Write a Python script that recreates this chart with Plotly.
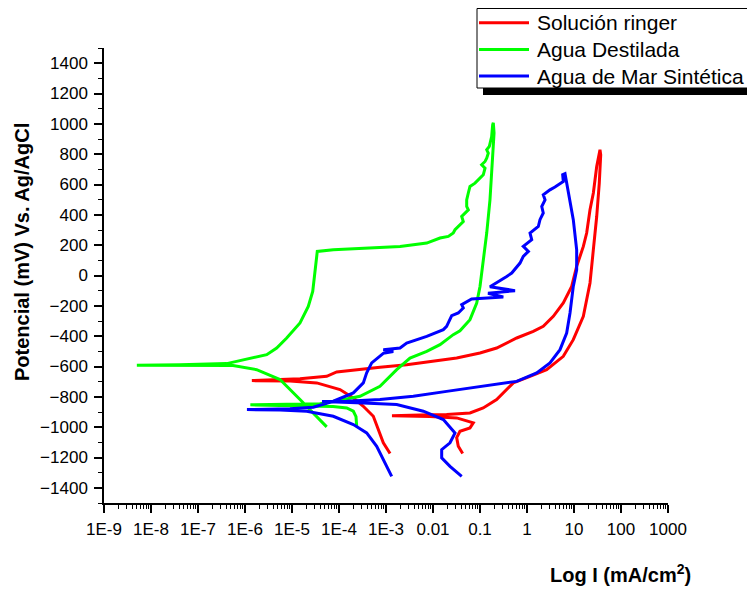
import plotly.graph_objects as go

# ---------------- data ----------------
series_names = ["Solución ringer", "Agua Destilada", "Agua de Mar Sintética"]
series_colors = ["#FF0000", "#00FF00", "#0000FF"]

# Solución ringer : current (mA/cm2), potential (mV)
ringer_i = [1.22e-3, 8.77e-4, 6.86e-4, 5.37e-4, 3.29e-4, 2.02e-4, 1.05e-4, 3.36e-5, 9.06e-6, 1.4e-6,
            1.48e-5, 5.47e-5, 8.93e-5, 2.80e-4, 7.45e-4, 2.75e-3, 0.0101, 0.0319, 0.1, 0.226,
            0.604, 1.36, 2.22, 3.63, 5.92, 8.93, 11.4, 15.8, 18.6, 21.9,
            25.8, 30.4, 35.7, 37.0, 34.5, 30.4, 25.8, 21.9, 15.8, 9.66,
            5.92, 2.62, 1.16, 0.512, 0.226, 0.117, 0.0612, 0.0195, 5.28e-3, 1.34e-3,
            8.63e-3, 0.0319, 0.0719, 0.0612, 0.0375, 0.0319, 0.0345, 0.0428]
ringer_e = [-1174, -1103, -1016, -928, -862, -807, -752, -708, -696, -693,
            -680, -665, -636, -617, -605, -588, -566, -544, -511, -478,
            -412, -368, -335, -269, -181, -72, 60, 192, 280, 433,
            544, 719, 829, 796, 609, 389, 170, -49, -269, -423,
            -533, -621, -665, -708, -818, -873, -906, -917, -920, -924,
            -929, -939, -972, -1005, -1027, -1069, -1126, -1174]

# Agua Destilada
dest_i = [5.47e-5, 2.80e-5, 1.48e-5, 5.56e-6, 1.77e-6, 5.56e-7, 4.1e-8, 5.0e-9, 4.1e-8, 4.08e-7,
          1.09e-6, 2.90e-6, 4.72e-6, 7.71e-6, 1.48e-5, 2.22e-5, 2.76e-5, 3.08e-5, 3.45e-5, 7.56e-5,
          3.88e-4, 1.99e-3, 7.35e-3, 0.0141, 0.0212, 0.0270, 0.0294, 0.0375, 0.0441, 0.0408,
          0.048, 0.0564, 0.0521, 0.0521, 0.0564, 0.0612, 0.0783, 0.1, 0.1175, 0.128,
          0.1085, 0.128, 0.139, 0.150, 0.139, 0.158, 0.177, 0.186, 0.192, 0.199,
          0.177, 0.163, 0.139, 0.1175, 0.1, 0.0851, 0.0612, 0.0375, 0.0270, 0.0141,
          7.35e-3, 3.24e-3, 1.69e-3, 7.45e-4, 2.80e-4, 1.05e-4, 3.94e-5, 1.3e-6, 1.48e-5, 7.45e-5,
          1.46e-4, 2.02e-4, 2.30e-4, 2.38e-4]
dest_e = [-998, -904, -818, -686, -621, -594, -592, -592, -589, -581,
          -550, -522, -478, -412, -313, -204, -105, 16, 159, 170,
          181, 192, 214, 247, 258, 280, 302, 335, 356, 389,
          412, 433, 455, 499, 544, 587, 609, 642, 664, 708,
          730, 752, 774, 807, 829, 851, 916, 993, 1007, 939,
          719, 499, 280, 104, -72, -181, -291, -364, -390, -456,
          -500, -544, -621, -731, -796, -823, -845, -853, -859, -864,
          -873, -895, -930, -996]

# Agua de Mar Sintética
mar_i = [1.32e-3, 9.53e-4, 6.34e-4, 3.88e-4, 2.02e-4, 7.56e-5, 2.06e-5, 5.56e-6, 1.1e-6, 9.06e-6,
         2.84e-5, 7.56e-5, 2.02e-4, 3.29e-4, 3.88e-4, 4.96e-4, 8.77e-4, 1.43e-3, 8.77e-4, 1.99e-3,
         2.75e-3, 7.35e-3, 0.0166, 0.0195, 0.025, 0.0345, 0.0441, 0.0408, 0.0564, 0.0665,
         0.313, 0.148, 0.556, 0.163, 0.370, 0.473, 0.710, 0.834, 1.07, 0.834,
         1.26, 1.16, 1.74, 1.89, 2.22, 2.06, 2.42, 2.22, 3.08, 3.94,
         5.92, 5.74, 6.44, 6.98, 8.22, 9.66, 11.4, 11.4, 9.66, 8.22,
         6.98, 5.04, 3.08, 1.61, 0.604, 0.1, 0.0195, 3.81e-3, 7.45e-4, 1.46e-4,
         4.35e-5, 3.29e-4, 1.69e-3, 6.22e-3, 0.0166, 0.0294, 0.0230, 0.0153, 0.0153, 0.0230,
         0.0408]
mar_e = [-1324, -1235, -1126, -1038, -983, -928, -895, -887, -884, -879,
         -868, -829, -774, -708, -642, -576, -513, -502, -489, -478,
         -445, -401, -357, -335, -265, -247, -214, -192, -171, -155,
         -142, -117, -100, -74, -6, 16, 82, 126, 159, 192,
         236, 280, 323, 368, 412, 455, 499, 532, 565, 583,
         620, 664, 671, 609, 499, 368, 170, 38, -72, -247,
         -379, -489, -576, -642, -698, -731, -764, -796, -818, -829,
         -831, -841, -851, -895, -950, -1038, -1103, -1148, -1202, -1258,
         -1324]

x_tickvals = [1e-9, 1e-8, 1e-7, 1e-6, 1e-5, 1e-4, 1e-3, 1e-2, 1e-1, 1, 10, 100, 1000]
x_ticktext = ["1E-9", "1E-8", "1E-7", "1E-6", "1E-5", "1E-4", "1E-3", "0.01", "0.1", "1", "10", "100", "1000"]

x_title = "<b>Log I (mA/cm<sup>2</sup>)</b>"
y_title = "<b>Potencial (mV) Vs. Ag/AgCl</b>"

# ---------------- figure ----------------
W, H = 747, 589
X0, X1, Y0, Y1 = 104, 668, 48, 503
FONT = "Arial, 'Liberation Sans', sans-serif"


def px(x):
    return (x - X0) / (X1 - X0)


def py(y):
    return (Y1 - y) / (Y1 - Y0)


fig = go.Figure()
for name, color, xs, ys in zip(series_names, series_colors,
                               [ringer_i, dest_i, mar_i], [ringer_e, dest_e, mar_e]):
    fig.add_trace(go.Scatter(x=xs, y=ys, mode="lines", name=name,
                             line=dict(color=color, width=3), showlegend=False))

axis_common = dict(showline=True, linecolor="black", linewidth=1.5, mirror=False,
                   showgrid=False, zeroline=False, ticks="outside", ticklen=8,
                   tickwidth=1.5, tickcolor="black",
                   tickfont=dict(family=FONT, size=17, color="black"))

fig.update_xaxes(type="log", range=[-9, 3], tickvals=x_tickvals, ticktext=x_ticktext,
                 ticklabelstandoff=2,
                 minor=dict(ticks="outside", ticklen=4, tickwidth=1, tickcolor="black", dtick="D1"),
                 **axis_common)
fig.update_yaxes(range=[-1500, 1500], tick0=0, dtick=200, ticklabelstandoff=3,
                 minor=dict(ticks="outside", ticklen=4, tickwidth=1, tickcolor="black", dtick=100),
                 **axis_common)

annotations = [
    dict(text=y_title, x=px(22), y=py(252), xref="paper", yref="paper", textangle=-90,
         showarrow=False, xanchor="center", yanchor="middle",
         font=dict(family=FONT, size=20, color="black")),
    dict(text=x_title, x=px(620), y=py(573), xref="paper", yref="paper",
         showarrow=False, xanchor="center", yanchor="middle",
         font=dict(family=FONT, size=20, color="black")),
]

shapes = [
    # legend shadow and box
    dict(type="rect", xref="paper", yref="paper", x0=px(483), x1=px(752), y0=py(95), y1=py(88),
         fillcolor="black", line=dict(width=0)),
    dict(type="rect", xref="paper", yref="paper", x0=px(477), x1=px(752), y0=py(88), y1=py(8.5),
         fillcolor="white", line=dict(color="black", width=1)),
]
for k, (name, color) in enumerate(zip(series_names, series_colors)):
    yrow = 22.7 + 26.7 * k
    shapes.append(dict(type="line", xref="paper", yref="paper", x0=px(479), x1=px(529),
                       y0=py(yrow), y1=py(yrow), line=dict(color=color, width=3)))
    annotations.append(dict(text=name, x=px(535), y=py(yrow), xref="paper", yref="paper",
                            showarrow=False, xanchor="left", yanchor="middle",
                            font=dict(family=FONT, size=21, color="black")))

fig.update_layout(width=W, height=H, margin=dict(l=X0, r=W - X1, t=Y0, b=H - Y1),
                  paper_bgcolor="white", plot_bgcolor="white",
                  annotations=annotations, shapes=shapes, showlegend=False,
                  font=dict(family=FONT, color="black"))

fig.write_html("out.html")
